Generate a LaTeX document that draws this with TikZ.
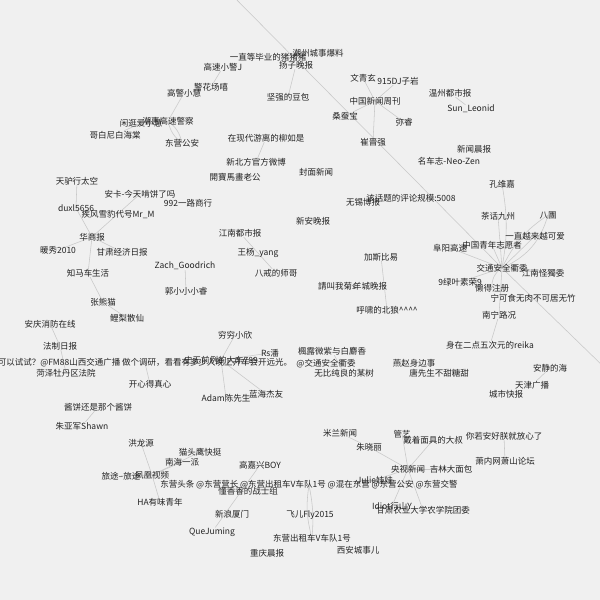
\documentclass[tikz,border=0pt]{standalone}
\usepackage{fontspec}
\setmainfont{Noto Sans CJK SC}
\pgfdeclarelayer{bg}
\pgfdeclarelayer{edges}
\pgfsetlayers{bg,edges,main}
\definecolor{bgcol}{HTML}{F0F0F0}
\definecolor{edgecol}{HTML}{C8C8C8}
\definecolor{txtcol}{HTML}{222222}
\tikzset{
  lbl/.style={inner sep=0pt, text=txtcol},
  edge/.style={draw=edgecol, line width=0.55pt},
}
\begin{document}
\begin{tikzpicture}[x=1pt,y=-1pt]
                \useasboundingbox (0,0) rectangle (600,600);
                \begin{pgfonlayer}{bg}
                \fill [bgcol] (0,0) rectangle (600,600);
                \end{pgfonlayer}
                \clip (0,0) rectangle (600,600);
                {\fontsize{8.5}{10}\selectfont

                % Marking nodes, top
                \node [lbl] (yzdby) at (268.000000,57.000000) {一直等毕业的猪猪猪};%
                \node [lbl] (czcs) at (318.000000,53.000000) {潮州城事爆料};%
                \node [lbl] (yzwb) at (296.000000,65.000000) {扬子晚报};%
                \node [lbl] (gsxj) at (223.000000,67.000000) {高速小警J};%
                \node [lbl] (jhcx) at (211.000000,87.000000) {警花场嘻};%
                \node [lbl] (jqdb) at (288.000000,97.000000) {坚强的豆包};%
                \node [lbl] (wqx) at (363.000000,78.000000) {文青玄};%
                \node [lbl] (djzy) at (398.000000,81.000000) {915DJ子岩};%
                \node [lbl] (zgxw) at (375.000000,101.000000) {中国新闻周刊};%
                \node [lbl] (scb) at (345.000000,116.000000) {桑蚕宝};%
                \node [lbl] (mr) at (404.000000,122.000000) {弥睿};%
                \node [lbl] (cjq) at (373.000000,142.000000) {崔晋强};%
                \node [lbl] (wzds) at (450.000000,93.000000) {温州都市报};%
                \node [lbl] (sunl) at (471.000000,109.000000) {Sun\_Leonid};%
                \node [lbl] (xwcb) at (474.000000,149.000000) {新闻晨报};%
                \node [lbl] (mczh) at (449.000000,161.000000) {名车志-Neo-Zen};%
                \node [lbl] (zxd) at (266.000000,138.000000) {在现代游离的柳如是};%
                \node [lbl] (gjxh) at (184.000000,93.000000) {高警小慧};%
                \node [lbl] (xgah) at (141.000000,123.000000) {闲逛爱小慧};%
                \node [lbl] (chgs) at (168.000000,121.000000) {潮惠高速警察};%
                \node [lbl] (gbn) at (115.000000,135.000000) {哥白尼白海棠};%
                \node [lbl] (dyga) at (182.000000,143.000000) {东营公安};%

                % Marking nodes, middle
                \node [lbl] (xbf) at (256.000000,162.000000) {新北方官方微博};%
                \node [lbl] (kbm) at (235.000000,177.000000) {開寶馬畫老公};%
                \node [lbl] (fmxw) at (316.000000,172.000000) {封面新闻};%
                \node [lbl] (wxbb) at (363.000000,202.000000) {无锡博报};%
                \node [lbl] (plgm) at (411.000000,198.000000) {该话题的评论规模:5008};%
                \node [lbl] (xawb) at (313.000000,221.000000) {新安晚报};%
                \node [lbl] (jnds) at (240.000000,233.000000) {江南都市报};%
                \node [lbl] (wyy) at (258.000000,253.000000) {王杨\_yang};%
                \node [lbl] (bjsg) at (276.000000,273.000000) {八戒的师哥};%
                \node [lbl] (jsby) at (381.000000,257.000000) {加斯比易};%
                \node [lbl] (qjwj) at (337.000000,286.000000) {請叫我菊s};%
                \node [lbl] (ycwb) at (370.000000,286.000000) {羊城晚报};%
                \node [lbl] (hxbl) at (387.000000,310.000000) {呼啸的北狼\^{}\^{}\^{}\^{}};%

                % Marking nodes, left
                \node [lbl] (tlxtk) at (77.000000,181.000000) {天驴行太空};%
                \node [lbl] (akjt) at (140.000000,194.000000) {安卡-今天啃饼了吗};%
                \node [lbl] (ylsh) at (188.000000,203.000000) {992一路商行};%
                \node [lbl] (duxl) at (76.000000,208.000000) {duxl5656};%
                \node [lbl] (jfxb) at (118.000000,214.000000) {疾风雪豹代号Mr\_M};%
                \node [lbl] (hsb) at (92.000000,237.000000) {华商报};%
                \node [lbl] (nx) at (58.000000,250.000000) {暖秀2010};%
                \node [lbl] (gsjj) at (122.000000,252.000000) {甘肃经济日报};%
                \node [lbl] (zach) at (185.000000,266.000000) {Zach\_Goodrich};%
                \node [lbl] (zmcs) at (88.000000,273.000000) {知马车生活};%
                \node [lbl] (gxxr) at (186.000000,291.000000) {郭小小小睿};%
                \node [lbl] (zxm) at (103.000000,302.000000) {张熊猫};%
                \node [lbl] (llsx) at (127.000000,318.000000) {鲤梨散仙};%
                \node [lbl] (aqxf) at (50.000000,324.000000) {安庆消防在线};%
                \node [lbl] (fzrb) at (60.000000,346.000000) {法制日报};%
                \node [lbl] (fm) at (145.000000,363.000000) {可以试试？@FM88山西交通广播 做个调研，看看有多少人晚上开车会开远光。};%
                \node [lbl] (hzmd) at (66.000000,373.000000) {菏泽牡丹区法院};%
                \node [lbl] (kxdz) at (150.000000,384.000000) {开心得真心};%
                \node [lbl] (jbhs) at (98.000000,407.000000) {酱饼还是那个酱饼};%
                \node [lbl] (zyj) at (82.000000,426.000000) {朱亚军Shawn};%

                % Marking nodes, bottom left
                \node [lbl] (hly) at (141.000000,443.000000) {洪龙源};%
                \node [lbl] (mtyk) at (200.000000,452.000000) {猫头鹰快挺};%
                \node [lbl] (nhyp) at (182.000000,462.000000) {南海一派};%
                \node [lbl] (ltlt) at (121.000000,476.000000) {旅途--旅途};%
                \node [lbl] (fhsp) at (152.000000,475.000000) {凤凰视频};%
                \node [lbl] (dytt) at (309.000000,485.000000) {东营头条 @东营营长 @东营出租车V车队1号 @混在东营 @东营公安 @东营交警};%
                \node [lbl] (gjx) at (260.000000,465.000000) {高嘉兴BOY};%
                \node [lbl] (dxx) at (248.000000,491.000000) {懂香香的战士组};%
                \node [lbl] (hayw) at (160.000000,502.000000) {HA有味青年};%
                \node [lbl] (xlxm) at (232.000000,514.000000) {新浪厦门};%
                \node [lbl] (fefly) at (310.000000,515.000000) {飞儿Fly2015};%
                \node [lbl] (quej) at (212.000000,532.000000) {QueJuming};%
                \node [lbl] (dyczc) at (312.000000,538.000000) {东营出租车V车队1号};%
                \node [lbl] (cqcb) at (267.000000,553.000000) {重庆晨报};%
                \node [lbl] (xacs) at (358.000000,550.000000) {西安城事儿};%

                % Marking nodes, bottom right
                \node [lbl] (mlxw) at (340.000000,433.000000) {米兰新闻};%
                \node [lbl] (zxl) at (369.000000,447.000000) {朱晓丽};%
                \node [lbl] (gy) at (402.000000,434.000000) {管艺};%
                \node [lbl] (dzmj) at (433.000000,440.000000) {戴着面具的大叔};%
                \node [lbl] (nrah) at (504.000000,436.000000) {你若安好朕就放心了};%
                \node [lbl] (ysxw) at (408.000000,469.000000) {央视新闻};%
                \node [lbl] (jldm) at (451.000000,469.000000) {吉林大面包};%
                \node [lbl] (xnw) at (505.000000,461.000000) {萧内网萧山论坛};%
                \node [lbl] (julie) at (375.000000,480.000000) {Julie娃娃};%
                \node [lbl] (idiot) at (392.000000,506.000000) {Idiot行山Y};%
                \node [lbl] (gsny) at (423.000000,510.000000) {甘肃农业大学农学院团委};%

                % Marking nodes, right
                \node [lbl] (kwj) at (502.000000,184.000000) {孔维嘉};%
                \node [lbl] (chjz) at (498.000000,216.000000) {茶话九州};%
                \node [lbl] (bt) at (548.000000,215.000000) {八團};%
                \node [lbl] (yzyl) at (535.000000,236.000000) {一直越来越可爱};%
                \node [lbl] (fygs) at (450.000000,248.000000) {阜阳高速};%
                \node [lbl] (zgqn) at (492.000000,245.000000) {中国青年志愿者};%
                \node [lbl] (jtaq) at (502.000000,268.000000) {交通安全衢委};%
                \node [lbl] (jngd) at (543.000000,273.000000) {江南怪獨委};%
                \node [lbl] (lyrs) at (460.000000,282.000000) {9绿叶素荣9};%
                \node [lbl] (ldzc) at (492.000000,288.000000) {懒得注册};%
                \node [lbl] (nksw) at (533.000000,298.000000) {宁可食无肉不可居无竹};%
                \node [lbl] (nnlk) at (499.000000,315.000000) {南宁路况};%
                \node [lbl] (reika) at (490.000000,345.000000) {身在二点五次元的reika};%
                \node [lbl] (ajdh) at (550.000000,368.000000) {安静的海};%
                \node [lbl] (tjgb) at (532.000000,385.000000) {天津广播};%
                \node [lbl] (cskb) at (506.000000,394.000000) {城市快报};%
                \node [lbl] (yzsb) at (414.000000,363.000000) {燕赵身边事};%
                \node [lbl] (txs) at (439.000000,373.000000) {唐先生不甜糖甜};%
                \node [lbl] (flwz) at (332.000000,351.000000) {楓露微紫与白麝香};%
                \node [lbl] (atjaq) at (326.000000,364.000000) {@交通安全衢委};%
                \node [lbl] (wbcl) at (344.000000,373.000000) {无比纯良的某树};%
                \node [lbl] (qqxx) at (235.000000,335.000000) {穷穷小欣};%
                \node [lbl] (rsp) at (270.000000,353.000000) {Rs潘};%
                \node [lbl] (adam) at (226.000000,398.000000) {Adam陈先生};%
                \node [lbl] (lhjy) at (266.000000,394.000000) {蓝海杰友};%
                \node [lbl] (dfdd) at (221.000000,360.000000) {史无前例的大东789};%
                \coordinate (offnw) at (227.000000,-10.000000);%
                \coordinate (offse) at (640.000000,402.000000);%
                }

                \begin{pgfonlayer}{edges}
                % Drawing long edge through the hub
                \draw [edge] (offnw) -- (jtaq.center) -- (offse);%
                % Drawing edges, top
                \draw [edge] (gsxj) -- (jhcx);%
                \draw [edge] (yzwb) -- (jqdb);%
                \draw [edge] (gjxh) -- (chgs.center);%
                \draw [edge] (chgs.center) to [bend left=20] (dyga.center);%
                \draw [edge] (chgs.center) to [bend right=20] (dyga.center);%
                \draw [edge] (gbn) -- (xgah.center);%
                \draw [edge] (zxd) -- (xbf);%
                \foreach \n in {wqx,djzy,scb,mr,cjq}
                  \draw [edge] (zgxw.center) -- (\n);%
                \draw [edge] (wzds) -- (sunl);%
                % Drawing edges, left
                \draw [edge] (tlxtk) -- (duxl.center);%
                \foreach \n in {duxl,akjt,nx,gsjj,zmcs}
                  \draw [edge] (hsb.center) -- (\n.center);%
                \draw [edge] (zmcs) -- (zxm);%
                \draw [edge] (zxm) -- (llsx);%
                \draw [edge] (zach) -- (gxxr);%
                \draw [edge] (jnds) -- (bjsg);%
                \draw [edge] (jsby) -- (hxbl);%
                \draw [edge] (aqxf) -- (fzrb);%
                \draw [edge] (fzrb) -- (hzmd);%
                \draw [edge] (fm.center) -- (kxdz);%
                \draw [edge] (jbhs) -- (zyj);%
                % Drawing edges, bottom left
                \foreach \n in {hly,nhyp,ltlt,hayw,mtyk}
                  \draw [edge] (fhsp.center) -- (\n.center);%
                \foreach \n in {qqxx,rsp,lhjy,adam}
                  \draw [edge] (dfdd.center) -- (\n.center);%
                \draw [edge] (dytt.center) to [bend right=12] (dyczc.center);%
                \draw [edge] (dytt.center) to [bend left=8] (dyczc.center);%
                \draw [edge] (gjx) -- (quej);%
                % Drawing edges, right
                \draw [edge] (flwz) -- (wbcl);%
                \draw [edge] (tjgb) -- (ajdh);%
                \draw [edge] (nnlk) -- (reika);%
                \draw [edge] (jtaq.center) -- (nnlk);%
                \foreach \n in {chjz,yzyl,fygs,lyrs,jngd,zgqn}
                  \draw [edge] (jtaq.center) -- (\n.center);%
                \draw [edge] (jtaq.center) to [bend right=10] (kwj.center);%
                \draw [edge] (jtaq.center) to [bend left=15] (bt.center);%
                \draw [edge] (jtaq.center) to [bend right=25] (bt.center);%
                \draw [edge] (jtaq.center) to [bend right=30] (ldzc.center);%
                \draw [edge] (nrah) -- (xnw);%
                \draw [edge] (mlxw) -- (zxl);%
                \foreach \n in {gy,dzmj,zxl,jldm,julie,idiot,gsny}
                  \draw [edge] (ysxw.center) -- (\n.center);%
                \end{pgfonlayer}
            \end{tikzpicture}
\end{document}
